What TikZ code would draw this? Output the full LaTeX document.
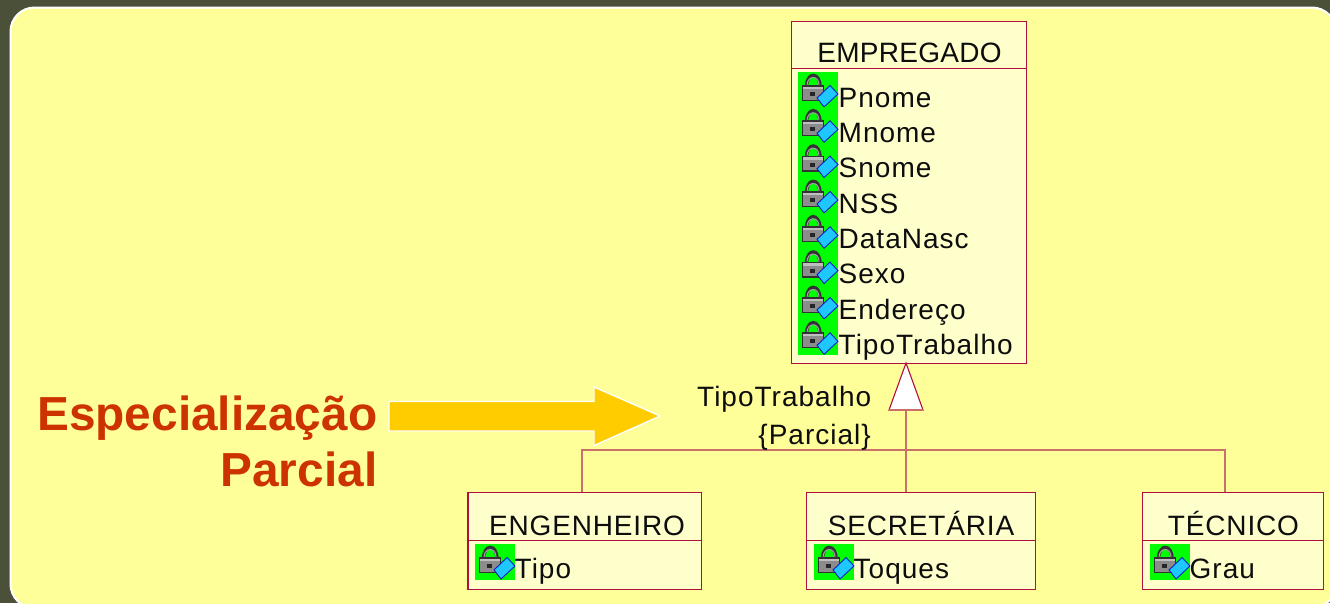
\documentclass[tikz,border=0pt]{standalone}
\usepackage{fontspec}
\setmainfont{Liberation Sans}
\newfontfamily\attrfont[LetterSpace=3.6]{Liberation Sans}
\newfontfamily\namefont[LetterSpace=1]{Liberation Sans}
\newfontfamily\subnamefont[LetterSpace=3]{Liberation Sans}
\definecolor{slidebg}{HTML}{4B5138}
\definecolor{panel}{HTML}{FFFF99}
\definecolor{boxfill}{HTML}{FFFFCC}
\definecolor{boxline}{HTML}{B0103F}
\definecolor{connline}{HTML}{C8706A}
\definecolor{headred}{HTML}{CC3300}
\definecolor{arrowgold}{HTML}{FFCC00}
\definecolor{gem}{HTML}{1EC8FF}
\definecolor{gemline}{HTML}{1020C0}
\tikzset{
  x=1pt,y=-1pt,
  classbox/.style={draw=boxline,line width=1.3pt,fill=boxfill,rectangle,inner sep=0pt,anchor=north west},
  divider/.style={draw=boxline,line width=1pt},
  conn/.style={draw=connline,line width=1.3pt},
  classname/.style={font=\fontsize{28}{30}\selectfont\namefont,anchor=base,inner sep=0pt,text=black!95},
  subname/.style={font=\fontsize{28}{30}\selectfont\subnamefont,anchor=base,inner sep=0pt,text=black!95},
  attr/.style={font=\fontsize{28}{30}\selectfont\attrfont,anchor=base west,inner sep=0pt,text=black!95},
  headline/.style={font=\fontsize{47.8}{50}\selectfont\bfseries,text=headred,anchor=base east,inner sep=0pt},
  attricon/.pic={
    \fill[green] (0,0) rectangle (40,36);
    \draw[black!80,line width=3.4pt] (8.5,15) .. controls (8.5,-0.5) and (22,-0.5) .. (22,15);
    \draw[black!35,line width=1pt] (9,13) .. controls (9.5,3) and (21,3) .. (21,13);
    \fill[black!80] (3.5,13) rectangle (26,29);
    \fill[black!45] (5,14.5) rectangle (24.5,27.5);
    \fill[black!25] (5,14.5) rectangle (24.5,17);
    \fill[black!85] (12,20) rectangle (17,24);
    \filldraw[fill=gem,draw=gemline,line width=0.9pt] (19,26) -- (32,13.5) -- (40,22) -- (26,35) -- cycle;
  }
}
\newcommand{\classrect}[5]{% name, x1, y1, x2, y2
  \node[classbox,minimum width=#4pt-#2pt,minimum height=#5pt-#3pt] (#1) at (#2,#3) {};
}
\begin{document}
\begin{tikzpicture}
\useasboundingbox (0,0) rectangle (1330,603);
\fill[slidebg] (0,0) rectangle (1330,603);
\draw[fill=panel,draw=white,line width=2pt,rounded corners=24pt] (10.5,7.5) rectangle (1336,608);
\clip (0,0) rectangle (1330,603);

% class boxes
\classrect{emp}{790.7}{20.7}{1025.7}{362.7}
\classrect{eng}{467.3}{492}{700.8}{588.7}
\classrect{sec}{806}{492}{1034.8}{588.7}
\classrect{tec}{1142}{492}{1322.8}{588.7}

\coordinate (triApex) at (906,363);
\coordinate (triL) at (889,410);
\coordinate (triR) at (923,410);
\coordinate (triB) at (906,410);
\coordinate (busL) at (582,450);
\coordinate (busR) at (1225,450);
\draw[conn] (triB) -- (triB |- sec.north);
\draw[conn] (busL |- eng.north) -- (busL) -- (busR) -- (busR |- tec.north);
\filldraw[fill=white,draw=boxline,line width=1.1pt] (triApex) -- (triR) -- (triL) -- cycle;
\draw[conn] (triL) -- (triR);

% dividers
\coordinate (empdiv) at (0,68);
\coordinate (subdiv) at (0,540);
\draw[divider] (emp.west |- empdiv) -- (emp.east |- empdiv);
\draw[divider] (eng.west |- subdiv) -- (eng.east |- subdiv);
\draw[divider] (sec.west |- subdiv) -- (sec.east |- subdiv);
\draw[divider] (tec.west |- subdiv) -- (tec.east |- subdiv);

% class names
\node[classname] (empname) at (909.5,62) {EMPREGADO};
\node[subname] (engname) at (587,535) {ENGENHEIRO};
\node[subname] (secname) at (921,535) {SECRETÁRIA};
\node[subname] (tecname) at (1233.5,535) {TÉCNICO};

% attributes of EMPREGADO
\pic at (798,72) {attricon};
\pic at (798,107.3) {attricon};
\pic at (798,142.6) {attricon};
\pic at (798,178) {attricon};
\pic at (798,213.3) {attricon};
\pic at (798,248.6) {attricon};
\pic at (798,284) {attricon};
\pic at (798,319.3) {attricon};
\node[attr] (a1) at (838.5,107.5) {Pnome};
\node[attr] (a2) at (838.5,142.5) {Mnome};
\node[attr] (a3) at (838.5,177.5) {Snome};
\node[attr] (a4) at (838.5,213) {NSS};
\node[attr] (a5) at (838.5,248.5) {DataNasc};
\node[attr] (a6) at (838.5,283.5) {Sexo};
\node[attr] (a7) at (838.5,319) {Endereço};
\node[attr] (a8) at (838.5,354) {TipoTrabalho};

% attributes of the subclasses
\pic at (475,544) {attricon};
\pic at (814,544) {attricon};
\pic at (1150,544) {attricon};
\node[attr] (b1) at (514.5,578) {Tipo};
\node[attr] (b2) at (853.5,578) {Toques};
\node[attr] (b3) at (1189.5,578) {Grau};

% labels
\node[attr] (lab1) at (697,406) {TipoTrabalho};
\node[attr,anchor=base east] (lab2) at (871,444) {\{Parcial\}};

% headline and arrow
\node[headline] (h1) at (377.5,430) {Especialização};
\node[headline] (h2) at (377.5,486) {Parcial};
\filldraw[fill=arrowgold,draw=white,line width=1.3pt] (389,401.5) -- (594,401.5) -- (594,387) -- (660,416) -- (594,445.5) -- (594,431) -- (389,431) -- cycle;
\end{tikzpicture}
\end{document}
